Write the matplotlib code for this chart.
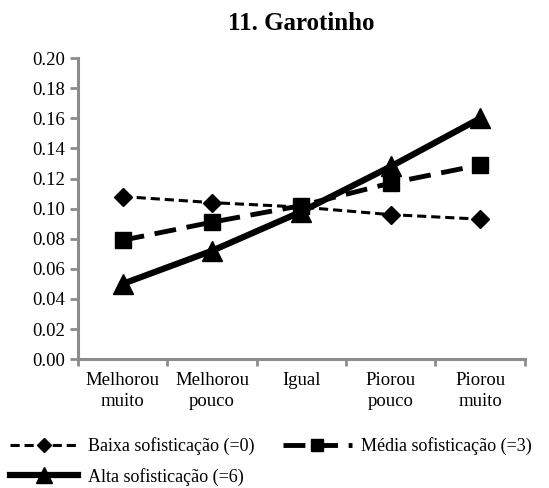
import matplotlib
matplotlib.use('Agg')
from matplotlib import pyplot as plt

categories = ['Melhorou\nmuito', 'Melhorou\npouco', 'Igual', 'Piorou\npouco', 'Piorou\nmuito']
baixa = [0.108, 0.104, 0.101, 0.096, 0.093]
media = [0.079, 0.091, 0.102, 0.117, 0.129]
alta = [0.050, 0.072, 0.098, 0.128, 0.160]
yticks = [0.00, 0.02, 0.04, 0.06, 0.08, 0.10, 0.12, 0.14, 0.16, 0.18, 0.20]

plt.rcParams['font.family'] = ['Liberation Serif', 'DejaVu Serif']

fig = plt.figure(figsize=(5.49, 4.88), dpi=100)
ax = fig.add_axes([0.142, 0.264, 0.814, 0.617])

x = list(range(len(categories)))
l1, = ax.plot(x, baixa, color='black', lw=2.2, ls=(0, (3, 1.6)), marker='D', ms=9,
              label='Baixa sofisticação (=0)')
l2, = ax.plot(x, media, color='black', lw=3.5, ls=(0, (4.5, 2.2)), marker='s', ms=11,
              label='Média sofisticação (=3)')
l3, = ax.plot(x, alta, color='black', lw=4.5, ls='-', marker='^', ms=15,
              label='Alta sofisticação (=6)')

ax.set_xlim(-0.5, 4.5)
ax.set_ylim(0, 0.20)
ax.set_yticks(yticks)
ax.set_yticklabels(['%.2f' % v for v in yticks])
ax.set_xticks(x)
ax.set_xticklabels(categories, linespacing=1.3)
ax.set_xticks([i - 0.5 for i in range(len(categories) + 1)], minor=True)
ax.tick_params(axis='x', which='major', length=0, pad=9)
ax.tick_params(axis='x', which='minor', length=5, width=2, color='#8c8c8c')
ax.tick_params(axis='y', length=6, width=2, color='#8c8c8c', pad=3)
ax.tick_params(labelsize=13.5)

for s in ['top', 'right']:
    ax.spines[s].set_visible(False)
for s in ['left', 'bottom']:
    ax.spines[s].set_color('#8c8c8c')
    ax.spines[s].set_linewidth(2.2)

ax.set_title('11. Garotinho', fontsize=18, fontweight='bold', pad=20)

# ordem em linhas como no original: baixa, media / alta
fig.legend([l1, l3, l2], [l1.get_label(), l3.get_label(), l2.get_label()],
           loc='upper left', bbox_to_anchor=(0.018, 0.104), ncol=2, frameon=False,
           fontsize=13, handlelength=3.8, handletextpad=0.55, columnspacing=1.55,
           labelspacing=0.7, borderpad=0, borderaxespad=0, markerscale=0.8)

plt.savefig('out.png', dpi=100)
